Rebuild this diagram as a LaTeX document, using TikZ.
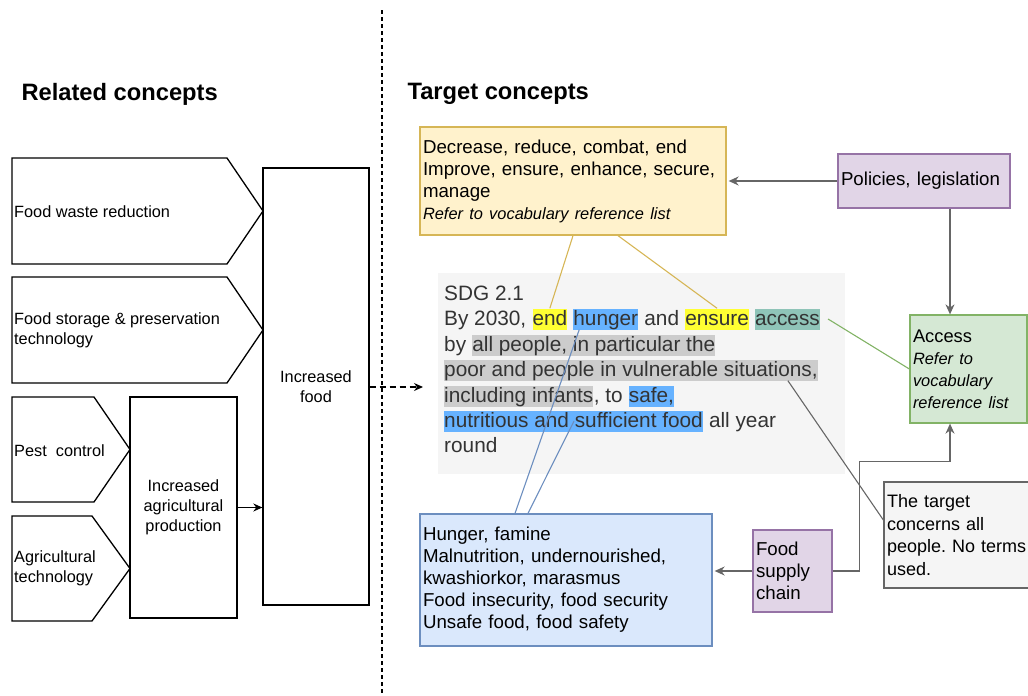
\documentclass[tikz,border=0pt]{standalone}
\usepackage{fontspec}
\setmainfont{Liberation Sans}
\usetikzlibrary{positioning,arrows.meta}
\frenchspacing

\definecolor{vocabfill}{HTML}{FFF2CC}
\definecolor{vocabline}{HTML}{D6B656}
\definecolor{policyfill}{HTML}{E1D5E7}
\definecolor{policyline}{HTML}{9673A6}
\definecolor{accessfill}{HTML}{D5E8D4}
\definecolor{accessline}{HTML}{82B366}
\definecolor{hungerfill}{HTML}{DAE8FC}
\definecolor{hungerline}{HTML}{6C8EBF}
\definecolor{notefill}{HTML}{F5F5F5}
\definecolor{noteline}{HTML}{666666}
\definecolor{sdgtext}{HTML}{333333}
\definecolor{hlyellow}{HTML}{FFFF33}
\definecolor{hlblue}{HTML}{66B2FF}
\definecolor{hlteal}{HTML}{8FC4B8}
\definecolor{hlgrey}{HTML}{CCCCCC}

\newcommand\relfont{\fontsize{16.3}{20}\selectfont}
\newcommand\tgtfont{\fontsize{18.7}{22}\selectfont}
\newcommand\reffont{\fontsize{16.4}{22.5}\selectfont\itshape}
\newcommand\sdgfont{\fontsize{20.8}{25.4}\selectfont}
\newcommand\headfont{\fontsize{23.7}{28}\selectfont\bfseries}
\def\wsp{5.8pt}

\begin{document}
\begin{tikzpicture}[x=1pt, y=-1pt,
    shapeline/.style={draw, line width=1.3pt},
    plainbox/.style={draw, line width=1.3pt, inner sep=0pt, align=center, font=\relfont},
    tgtbox/.style={draw, line width=1.3pt, inner xsep=3pt, inner ysep=0pt, align=left, font=\tgtfont},
    sdgword/.style={inner sep=0pt, anchor=base west, text height=16.5pt, text depth=4.5pt, font=\sdgfont, text=sdgtext},
    hl/.style={sdgword, fill=#1},
    karrow/.style={line width=1.3pt, -{Stealth[length=9pt, width=8pt]}},
    garrow/.style={draw=noteline, line width=1.3pt, -{Stealth[length=10pt, width=9pt]}},
    link/.style={line width=1.1pt}]
    \useasboundingbox (0,0) rectangle (1028,696);

    % Divider
    \coordinate (divTop) at (382,10);
    \coordinate (divBot) at (382,696);
    \draw[line width=1.2pt, dash pattern=on 4pt off 3pt] (divTop) -- (divBot);

    % Add headings
    \node[anchor=west, font=\headfont] (relHead) at (18,94) {Related concepts};
    \node[anchor=west, font=\headfont] (tgtHead) at (404,94) {Target concepts};

    % Draw the arrow shapes
    \foreach \ya/\yb/\xr/\xt in {158/264/227/263, 277/383/227/263, 397/502/94/130, 516/621/92/130} {
        \draw[shapeline] (12,\ya) -- (\xr,\ya) -- (\xt,{(\ya+\yb)/2}) -- (\xr,\yb) -- (12,\yb) -- cycle;
    }
    \node[anchor=west, font=\relfont, inner sep=0pt] (waste) at (14,212) {Food waste reduction};
    \node[anchor=west, font=\relfont, inner sep=0pt, align=left] (storage) at (14,330) {Food storage \& preservation\\technology};
    \node[anchor=west, font=\relfont, inner sep=0pt] (pest) at (14,451) {Pest\ \ control};
    \node[anchor=west, font=\relfont, inner sep=0pt, align=left] (agritech) at (14,568) {Agricultural\\technology};

    % Left boxes
    \node[plainbox, minimum width=107pt, minimum height=221pt] (agri) at (183.5,507.5) {Increased\\agricultural\\production};
    \node[plainbox, minimum width=106pt, minimum height=437pt] (food) at (316,386.5) {Increased\\food};
    \draw[karrow] (agri.east) -- (agri.east -| food.west);
    \coordinate (foodOut) at (423,387);
    \draw[karrow, dash pattern=on 6pt off 4pt] (food.east |- foodOut) -- (foodOut);

    % Target boxes
    \node[tgtbox, fill=vocabfill, draw=vocabline, minimum width=306pt, minimum height=108pt, text width=300pt] (vocab) at (573,181)
        {Decrease, reduce, combat, end\\Improve, ensure, enhance, secure,\\manage\\{\reffont Refer to vocabulary reference list}};
    \node[tgtbox, fill=policyfill, draw=policyline, minimum width=172pt, minimum height=54pt, text width=166pt] (policy) at (924,181)
        {Policies, legislation};
    \node[tgtbox, fill=accessfill, draw=accessline, minimum width=117pt, minimum height=108pt, text width=111pt] (access) at (968.5,369)
        {{\fontsize{18.3}{22.5}\selectfont Access}\\{\reffont Refer to}\\{\reffont vocabulary}\\{\reffont reference list}};
    \node[tgtbox, fill=notefill, draw=noteline, minimum width=170pt, minimum height=106pt, text width=164pt, font=\fontsize{18}{22.4}\selectfont] (note) at (969,535)
        {The target\\concerns all\\people. No terms\\used.};
    \node[tgtbox, fill=hungerfill, draw=hungerline, minimum width=292pt, minimum height=132pt, text width=286pt] (hunger) at (566,580)
        {Hunger, famine\\Malnutrition, undernourished,\\kwashiorkor, marasmus\\Food insecurity, food security\\Unsafe food, food safety};
    \node[tgtbox, fill=policyfill, draw=policyline, minimum width=79pt, minimum height=82pt, text width=73pt] (supply) at (792.5,571)
        {Food\\supply\\chain};

    % SDG text
    \node[fill=notefill, minimum width=407pt, minimum height=201pt, inner sep=0pt] (sdgbox) at (641.5,373.5) {};
    \node[sdgword] (sdgHead) at (444,300) {SDG 2.1};
    \node[sdgword] (byYear) at (444,325) {By 2030,};
    \node[hl=hlyellow, base right=\wsp of byYear] (hlEnd) {end};
    \node[hl=hlblue, base right=\wsp of hlEnd] (hlHunger) {hunger};
    \node[sdgword, base right=\wsp of hlHunger] (wAnd) {and};
    \node[hl=hlyellow, base right=\wsp of wAnd] (hlEnsure) {ensure};
    \node[hl=hlteal, base right=\wsp of hlEnsure] (hlAccess) {access};
    \node[sdgword] (wBy) at (444,351) {by};
    \node[hl=hlgrey, base right=\wsp of wBy] (hlPeople) {all people, in particular the};
    \node[hl=hlgrey] (hlPoor) at (444,376) {poor and people in vulnerable situations,};
    \node[hl=hlgrey] (hlInfants) at (444,402) {including infants};
    \node[sdgword, base right=0pt of hlInfants] (wTo) {, to};
    \node[hl=hlblue, base right=\wsp of wTo] (hlSafe) {safe,};
    \node[hl=hlblue] (hlFood) at (444,427) {nutritious and sufficient food};
    \node[sdgword, base right=\wsp of hlFood] (wYear) {all year};
    \node[sdgword] (wRound) at (444,452) {round};

    % Arrows between boxes
    \draw[garrow] (policy.west) -- ([xshift=2pt]policy.west -| vocab.east);
    \draw[garrow] ([xshift=26pt]policy.south) -- ([xshift=26pt]policy.south |- access.north);
    \draw[garrow] (supply.west) -- ([xshift=2pt]supply.west -| hunger.east);
    \draw[garrow] (supply.east) -- ++(27,0) |- ([xshift=-18.5pt, yshift=-38pt]access.south) -- ([xshift=-18.5pt]access.south);

    % Links to the words
    \draw[link, draw=vocabline] (vocab.south) -- (hlEnd.north);
    \draw[link, draw=vocabline] ([xshift=45pt]vocab.south) -- (hlEnsure.north);
    \draw[link, draw=accessline] ([xshift=8pt]hlAccess.east) -- (access.west);
    \draw[link, draw=noteline] ([xshift=-30pt]hlPoor.south east) -- ([yshift=15pt]note.west);
    \draw[link, draw=hungerline] ([xshift=-51pt]hunger.north) -- ([xshift=6pt]hlHunger.south west);
    \draw[link, draw=hungerline] ([xshift=-38pt]hunger.north) -- ([xshift=130pt]hlFood.west);
\end{tikzpicture}
\end{document}
